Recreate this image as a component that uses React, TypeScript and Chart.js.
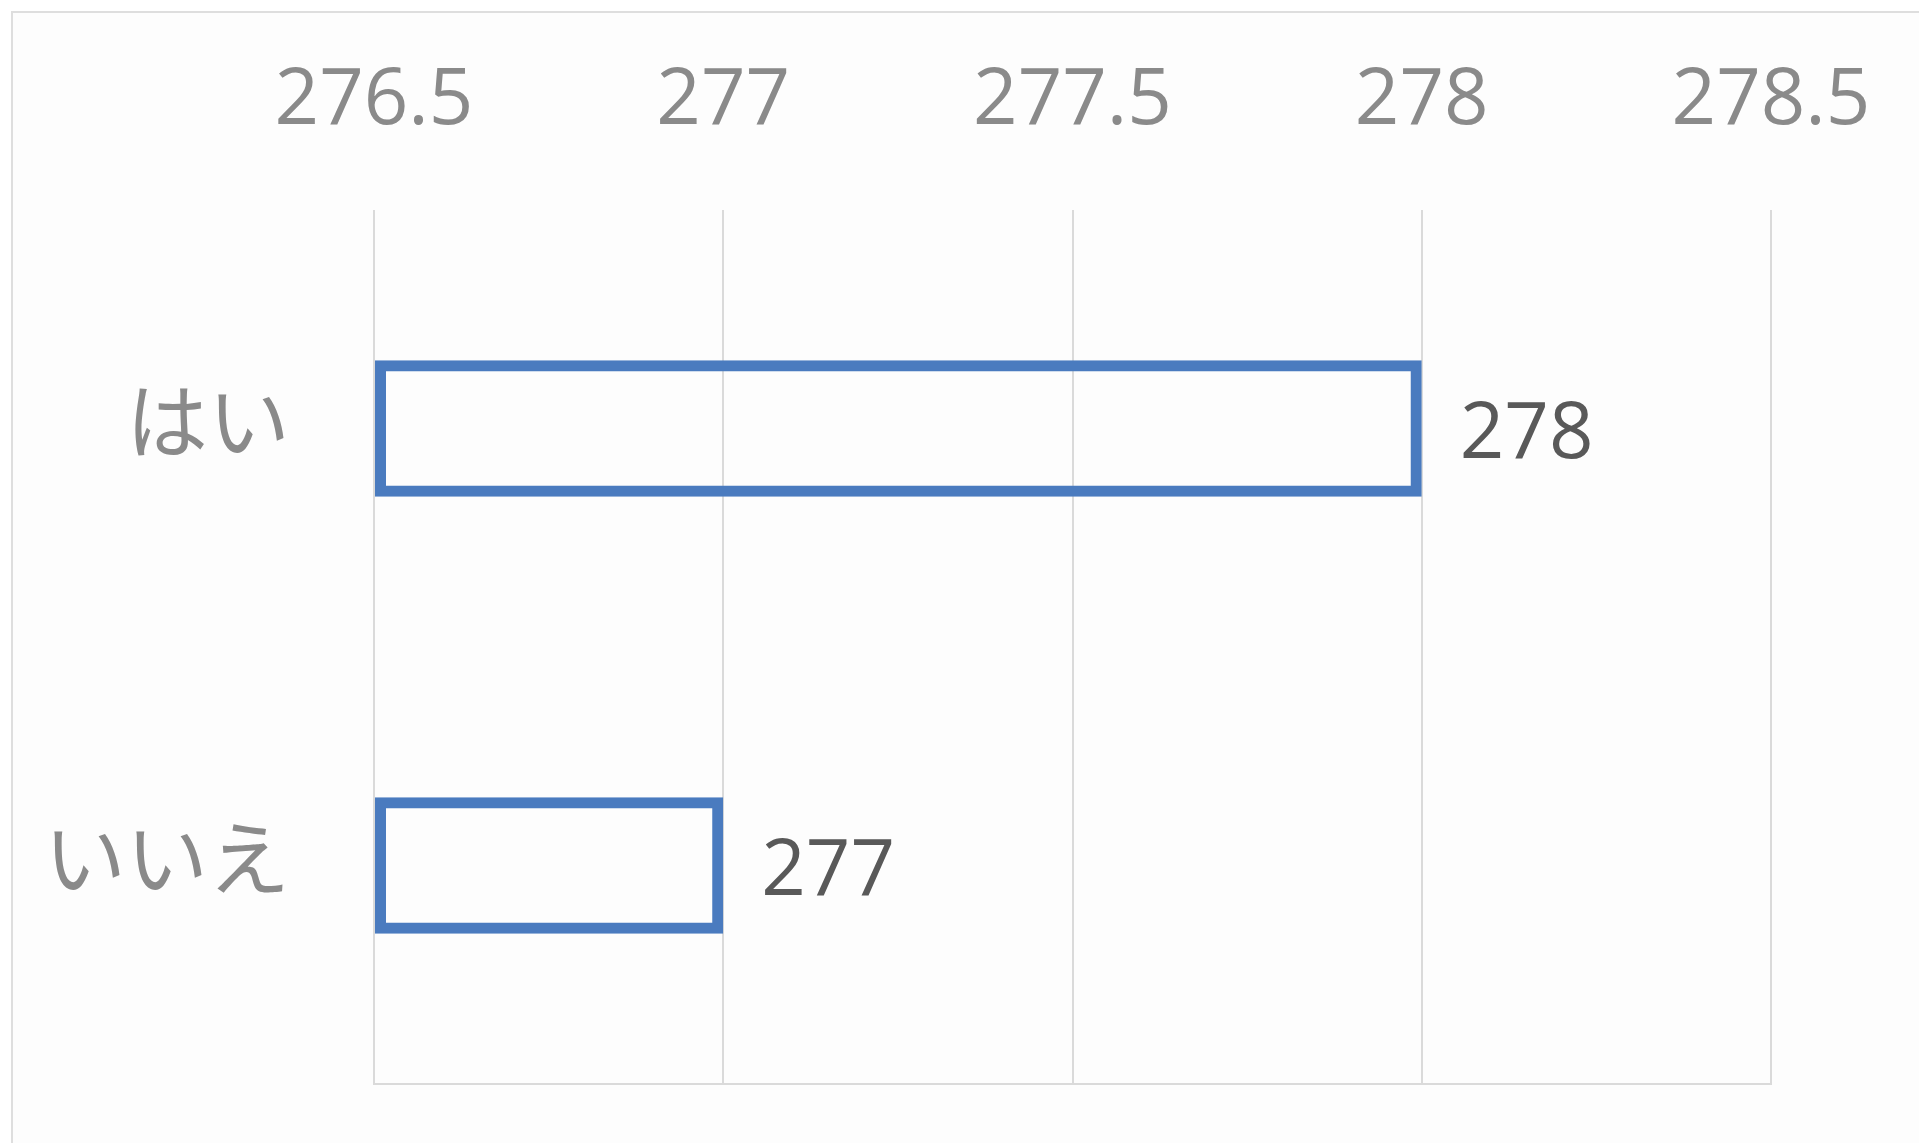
import React, { useEffect, useRef } from "react";
import { Chart, registerables } from "chart.js";

Chart.register(...registerables);

const categories = ["はい", "いいえ"];
const values = [278, 277];
const valueLabels = ["278", "277"];
const xTickLabels = ["276.5", "277", "277.5", "278", "278.5"];
const xMin = 276.5;
const xMax = 278.5;
const xStep = 0.5;

const FONT = "'Open Sans', 'Noto Sans CJK JP', sans-serif";

const zeroPad = (s: any) => {
  s.paddingLeft = 0;
  s.paddingRight = 0;
  s.paddingTop = 0;
  s.paddingBottom = 0;
};

const valueLabelPlugin = {
  id: "valueLabels",
  afterDatasetsDraw(chart: any) {
    const ctx = chart.ctx;
    const meta = chart.getDatasetMeta(0);
    ctx.save();
    ctx.font = `78px ${FONT}`;
    ctx.fillStyle = "#595959";
    ctx.textAlign = "left";
    ctx.textBaseline = "middle";
    meta.data.forEach((el: any, i: number) => {
      ctx.fillText(valueLabels[i], el.x + 38, el.y + 7);
    });
    ctx.restore();
  },
};

export default function App() {
  const ref = useRef<HTMLCanvasElement | null>(null);

  useEffect(() => {
    if (!ref.current) return;
    const chart = new Chart(ref.current, {
      type: "bar",
      data: {
        labels: categories,
        datasets: [
          {
            data: values,
            base: xMin,
            backgroundColor: "rgba(0,0,0,0)",
            borderColor: "#4a7bbf",
            borderWidth: 11,
            borderSkipped: false,
            categoryPercentage: 1,
            barPercentage: 0.312,
          },
        ],
      },
      options: {
        indexAxis: "y",
        animation: false,
        responsive: false,
        maintainAspectRatio: false,
        layout: { padding: { left: 0, top: 0, right: 148, bottom: 59 } },
        plugins: {
          legend: { display: false },
          tooltip: { enabled: false },
          title: { display: false },
        },
        scales: {
          x: {
            type: "linear",
            position: "top",
            min: xMin,
            max: xMax,
            afterFit: (s: any) => {
              s.height = 210;
              zeroPad(s);
            },
            ticks: {
              stepSize: xStep,
              padding: 61,
              color: "#8a8a8a",
              font: { family: FONT, size: 78 },
              callback: (_v: any, i: number) => xTickLabels[i],
            },
            grid: { color: "#dadada", lineWidth: 2, drawTicks: false },
            border: { display: false },
          },
          x2: {
            type: "linear",
            position: "bottom",
            min: xMin,
            max: xMax,
            afterFit: (s: any) => {
              s.height = 0;
              zeroPad(s);
            },
            ticks: { display: false },
            grid: { display: false, drawTicks: false },
            border: { display: true, color: "#dadada", width: 2 },
          },
          y: {
            type: "category",
            position: "left",
            afterFit: (s: any) => {
              s.width = 374;
              zeroPad(s);
            },
            ticks: {
              padding: 84,
              color: "#8a8a8a",
              font: { family: FONT, size: 82 },
            },
            grid: { display: false, drawTicks: false },
            border: { display: false },
          },
        },
      },
      plugins: [valueLabelPlugin],
    } as any);
    return () => chart.destroy();
  }, []);

  return (
    <div style={{ position: "fixed", left: 0, top: 0, width: 1919, height: 1143, background: "#ffffff", overflow: "hidden" }}>
      <div
        style={{
          position: "absolute",
          left: 11,
          top: 11,
          width: 1919,
          height: 1143,
          borderLeft: "2px solid #dedede",
          borderTop: "2px solid #dedede",
          background: "#fdfdfd",
        }}
      />
      <canvas ref={ref} width={1919} height={1143} style={{ position: "absolute", left: 0, top: 0, display: "block" }} />
    </div>
  );
}
